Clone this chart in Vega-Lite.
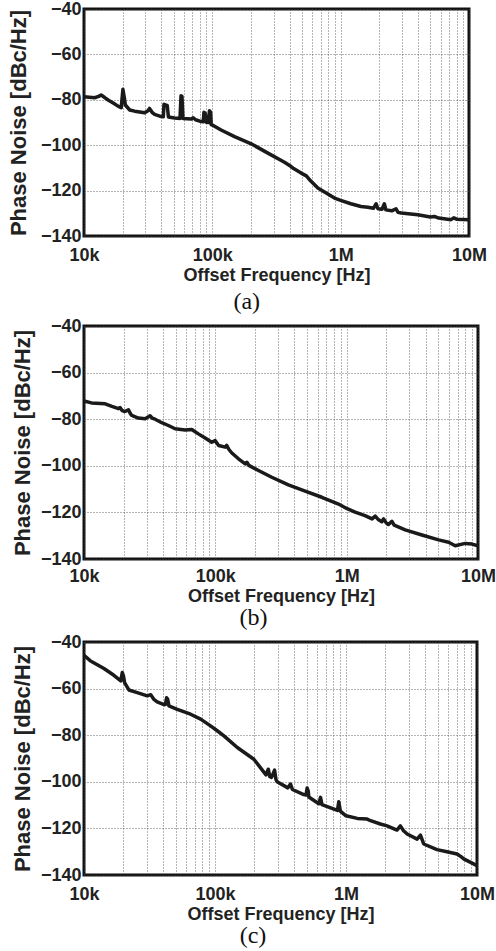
{
  "$schema": "https://vega.github.io/schema/vega-lite/v6.json",
  "padding": {"left": 5, "top": -2, "right": 4, "bottom": 0},
  "spacing": -1,
  "datasets": {
    "a": [
      {"f": 10000, "pn": -78.7}, {"f": 11000, "pn": -78.9}, {"f": 12100, "pn": -79.1}, {"f": 13000, "pn": -78.5},
      {"f": 13600, "pn": -77.9}, {"f": 14500, "pn": -79}, {"f": 15400, "pn": -80.1}, {"f": 17000, "pn": -81.5},
      {"f": 18400, "pn": -82.8}, {"f": 19500, "pn": -83.5}, {"f": 20100, "pn": -75.4}, {"f": 20600, "pn": -79},
      {"f": 21000, "pn": -82.3}, {"f": 22700, "pn": -84.5}, {"f": 24800, "pn": -85}, {"f": 29700, "pn": -85.7},
      {"f": 31500, "pn": -84.8}, {"f": 32400, "pn": -83.8}, {"f": 34000, "pn": -85.6}, {"f": 35500, "pn": -86.4},
      {"f": 40000, "pn": -87.4}, {"f": 41500, "pn": -87.5}, {"f": 42000, "pn": -82}, {"f": 43000, "pn": -82.3},
      {"f": 44500, "pn": -82.5}, {"f": 45500, "pn": -87.6}, {"f": 50800, "pn": -88}, {"f": 56000, "pn": -88.2},
      {"f": 57000, "pn": -78.2}, {"f": 58000, "pn": -78.5}, {"f": 59000, "pn": -88.2}, {"f": 68600, "pn": -88.5},
      {"f": 71000, "pn": -87.9}, {"f": 74000, "pn": -88.8}, {"f": 82000, "pn": -89.6}, {"f": 85000, "pn": -89.7},
      {"f": 86000, "pn": -85.5}, {"f": 88000, "pn": -86}, {"f": 89700, "pn": -89.9}, {"f": 93000, "pn": -90},
      {"f": 95000, "pn": -84.8}, {"f": 97000, "pn": -85.5}, {"f": 98000, "pn": -91}, {"f": 100000, "pn": -91.1},
      {"f": 117000, "pn": -93.3}, {"f": 149000, "pn": -96.2}, {"f": 201000, "pn": -99.4}, {"f": 271000, "pn": -103.5},
      {"f": 365000, "pn": -107.5}, {"f": 411000, "pn": -109.4}, {"f": 430000, "pn": -110.3}, {"f": 492000, "pn": -112.3},
      {"f": 540000, "pn": -113.5}, {"f": 555000, "pn": -114.3}, {"f": 580000, "pn": -115.6}, {"f": 664000, "pn": -118.9},
      {"f": 895000, "pn": -123.3}, {"f": 1000000, "pn": -124.3}, {"f": 1200000, "pn": -125.8}, {"f": 1440000, "pn": -127},
      {"f": 1630000, "pn": -127.3}, {"f": 1800000, "pn": -127.8}, {"f": 1890000, "pn": -125.8}, {"f": 1950000, "pn": -128},
      {"f": 2100000, "pn": -128.2}, {"f": 2190000, "pn": -125.8}, {"f": 2250000, "pn": -128.5}, {"f": 2500000, "pn": -128.9},
      {"f": 2700000, "pn": -128}, {"f": 2800000, "pn": -129.6}, {"f": 2960000, "pn": -129.9}, {"f": 3990000, "pn": -130.6},
      {"f": 5000000, "pn": -131.6}, {"f": 5370000, "pn": -131.4}, {"f": 5800000, "pn": -132.1}, {"f": 7240000, "pn": -132.8},
      {"f": 7600000, "pn": -132}, {"f": 8000000, "pn": -132.6}, {"f": 10000000, "pn": -132.8}
    ],
    "b": [
      {"f": 10000, "pn": -72.2}, {"f": 11400, "pn": -73}, {"f": 14500, "pn": -73.4}, {"f": 16300, "pn": -74.5},
      {"f": 18300, "pn": -75.5}, {"f": 18800, "pn": -75}, {"f": 19500, "pn": -76.3}, {"f": 20500, "pn": -76.7},
      {"f": 21800, "pn": -76}, {"f": 22500, "pn": -77.5}, {"f": 23100, "pn": -78.4}, {"f": 25900, "pn": -79.5},
      {"f": 29200, "pn": -79.8}, {"f": 30500, "pn": -79.2}, {"f": 31800, "pn": -78.5}, {"f": 33000, "pn": -79.5},
      {"f": 34800, "pn": -80}, {"f": 39100, "pn": -81.5}, {"f": 43900, "pn": -82.7}, {"f": 49400, "pn": -84.1},
      {"f": 58900, "pn": -84.6}, {"f": 66100, "pn": -84.4}, {"f": 74300, "pn": -86.3}, {"f": 83600, "pn": -88.1},
      {"f": 93900, "pn": -89.9}, {"f": 99600, "pn": -89.2}, {"f": 106000, "pn": -91.3}, {"f": 119000, "pn": -92},
      {"f": 122000, "pn": -91.2}, {"f": 127000, "pn": -93}, {"f": 133000, "pn": -94.4}, {"f": 150000, "pn": -97},
      {"f": 169000, "pn": -99.2}, {"f": 174000, "pn": -98.5}, {"f": 180000, "pn": -99.8}, {"f": 213000, "pn": -102},
      {"f": 269000, "pn": -104.9}, {"f": 360000, "pn": -108.2}, {"f": 483000, "pn": -110.9}, {"f": 647000, "pn": -113.5},
      {"f": 867000, "pn": -116.4}, {"f": 1000000, "pn": -118.3}, {"f": 1160000, "pn": -119.9}, {"f": 1380000, "pn": -121.4},
      {"f": 1560000, "pn": -122.8}, {"f": 1650000, "pn": -121.6}, {"f": 1750000, "pn": -123.2}, {"f": 1850000, "pn": -124},
      {"f": 1910000, "pn": -122.8}, {"f": 2000000, "pn": -124.5}, {"f": 2080000, "pn": -125.2}, {"f": 2210000, "pn": -123.8},
      {"f": 2300000, "pn": -125.5}, {"f": 2790000, "pn": -127.5}, {"f": 3740000, "pn": -129.7}, {"f": 5010000, "pn": -131.8},
      {"f": 5970000, "pn": -132.8}, {"f": 6710000, "pn": -134.3}, {"f": 8000000, "pn": -133.3}, {"f": 9000000, "pn": -133.6},
      {"f": 10000000, "pn": -134.3}
    ],
    "c": [
      {"f": 10000, "pn": -45.7}, {"f": 11200, "pn": -48.1}, {"f": 11500, "pn": -48.5}, {"f": 14200, "pn": -51.4},
      {"f": 16900, "pn": -54.3}, {"f": 19100, "pn": -56.7}, {"f": 19600, "pn": -53.1}, {"f": 20000, "pn": -54.5},
      {"f": 20400, "pn": -57.4}, {"f": 22000, "pn": -60.6}, {"f": 25500, "pn": -61.7}, {"f": 30400, "pn": -63.1},
      {"f": 32300, "pn": -62.6}, {"f": 34000, "pn": -64.5}, {"f": 36200, "pn": -65.7}, {"f": 40800, "pn": -66.9},
      {"f": 41800, "pn": -66.8}, {"f": 42700, "pn": -63.9}, {"f": 43500, "pn": -64.5}, {"f": 44500, "pn": -67.4},
      {"f": 51500, "pn": -68.9}, {"f": 65100, "pn": -71}, {"f": 77700, "pn": -73.1}, {"f": 92500, "pn": -76},
      {"f": 104000, "pn": -78.1}, {"f": 117000, "pn": -80.3}, {"f": 148000, "pn": -85.3}, {"f": 198000, "pn": -90.3},
      {"f": 245000, "pn": -97}, {"f": 255000, "pn": -94.6}, {"f": 262000, "pn": -97.8}, {"f": 270000, "pn": -98.1},
      {"f": 285000, "pn": -95}, {"f": 292000, "pn": -99}, {"f": 298000, "pn": -100}, {"f": 360000, "pn": -102.6},
      {"f": 377000, "pn": -101}, {"f": 390000, "pn": -103.3}, {"f": 476000, "pn": -105.5}, {"f": 495000, "pn": -105.7},
      {"f": 505000, "pn": -102.7}, {"f": 515000, "pn": -104}, {"f": 520000, "pn": -106.5}, {"f": 620000, "pn": -109.4},
      {"f": 639000, "pn": -106.7}, {"f": 655000, "pn": -109.8}, {"f": 860000, "pn": -112.3}, {"f": 881000, "pn": -108.6},
      {"f": 905000, "pn": -112.6}, {"f": 1000000, "pn": -114.6}, {"f": 1220000, "pn": -115.7}, {"f": 1450000, "pn": -116},
      {"f": 1540000, "pn": -116.7}, {"f": 1830000, "pn": -118.1}, {"f": 2060000, "pn": -118.9}, {"f": 2450000, "pn": -120.7},
      {"f": 2600000, "pn": -118.9}, {"f": 2750000, "pn": -121}, {"f": 2930000, "pn": -122.4}, {"f": 3490000, "pn": -124.6},
      {"f": 3700000, "pn": -122.9}, {"f": 3850000, "pn": -125.5}, {"f": 3920000, "pn": -126.7}, {"f": 4950000, "pn": -129.1},
      {"f": 5900000, "pn": -130}, {"f": 7040000, "pn": -131}, {"f": 7500000, "pn": -132}, {"f": 7920000, "pn": -133.1},
      {"f": 10000000, "pn": -136}
    ]
  },
  "config": {
    "view": {"stroke": "#111", "strokeWidth": 3},
    "axis": {
      "domain": false, "ticks": false, "grid": true,
      "gridDash": [1, 2], "gridColor": "#444", "gridWidth": 0.8,
      "labelFont": "Liberation Sans", "labelFontWeight": "bold", "labelFontSize": 18, "labelColor": "#222",
      "titleFont": "Liberation Sans", "titleFontWeight": "bold", "titleColor": "#222"
    },
    "axisX": {"titleFontSize": 18, "labelPadding": 10, "titlePadding": 2, "labelFlush": false, "labelOverlap": false, "labelBound": false},
    "axisY": {"titleFontSize": 22, "labelPadding": 3, "titlePadding": 6},
    "title": {"font": "Liberation Serif", "fontSize": 24, "fontWeight": "normal", "color": "#111", "orient": "bottom", "anchor": "middle", "frame": "bounds"}
  },
  "vconcat": [
    {
      "data": {"name": "a"},
      "width": 385, "height": 227,
      "title": {"text": "(a)", "offset": 6},
      "mark": {"type": "line", "color": "#1a1a1a", "strokeWidth": 3.5, "strokeJoin": "round"},
      "encoding": {
        "x": {"field": "f", "type": "quantitative", "scale": {"type": "log", "domain": [10000, 10000000], "nice": false},
          "axis": {"title": "Offset Frequency [Hz]",
            "values": [10000, 20000, 30000, 40000, 50000, 60000, 70000, 80000, 90000, 100000, 200000, 300000, 400000, 500000, 600000, 700000, 800000, 900000, 1000000, 2000000, 3000000, 4000000, 5000000, 6000000, 7000000, 8000000, 9000000, 10000000],
            "labelExpr": "datum.value == 10000 ? '10k' : datum.value == 100000 ? '100k' : datum.value == 1000000 ? '1M' : datum.value == 10000000 ? '10M' : ''"}},
        "y": {"field": "pn", "type": "quantitative", "scale": {"domain": [-140, -40], "nice": false},
          "axis": {"title": "Phase Noise [dBc/Hz]", "values": [-140, -120, -100, -80, -60, -40], "minExtent": 48}}
      }
    },
    {
      "data": {"name": "b"},
      "width": 394, "height": 233,
      "title": {"text": "(b)", "offset": 1},
      "mark": {"type": "line", "color": "#1a1a1a", "strokeWidth": 3.5, "strokeJoin": "round"},
      "encoding": {
        "x": {"field": "f", "type": "quantitative", "scale": {"type": "log", "domain": [10000, 10000000], "nice": false},
          "axis": {"title": "Offset Frequency [Hz]", "labelPadding": 8,
            "values": [10000, 20000, 30000, 40000, 50000, 60000, 70000, 80000, 90000, 100000, 200000, 300000, 400000, 500000, 600000, 700000, 800000, 900000, 1000000, 2000000, 3000000, 4000000, 5000000, 6000000, 7000000, 8000000, 9000000, 10000000],
            "labelExpr": "datum.value == 10000 ? '10k' : datum.value == 100000 ? '100k' : datum.value == 1000000 ? '1M' : datum.value == 10000000 ? '10M' : ''"}},
        "y": {"field": "pn", "type": "quantitative", "scale": {"domain": [-140, -40], "nice": false},
          "axis": {"title": "Phase Noise [dBc/Hz]", "values": [-140, -120, -100, -80, -60, -40]}}
      }
    },
    {
      "data": {"name": "c"},
      "width": 393, "height": 233,
      "title": {"text": "(c)", "offset": 1},
      "mark": {"type": "line", "color": "#1a1a1a", "strokeWidth": 3.5, "strokeJoin": "round"},
      "encoding": {
        "x": {"field": "f", "type": "quantitative", "scale": {"type": "log", "domain": [10000, 10000000], "nice": false},
          "axis": {"title": "Offset Frequency [Hz]",
            "values": [10000, 20000, 30000, 40000, 50000, 60000, 70000, 80000, 90000, 100000, 200000, 300000, 400000, 500000, 600000, 700000, 800000, 900000, 1000000, 2000000, 3000000, 4000000, 5000000, 6000000, 7000000, 8000000, 9000000, 10000000],
            "labelExpr": "datum.value == 10000 ? '10k' : datum.value == 100000 ? '100k' : datum.value == 1000000 ? '1M' : datum.value == 10000000 ? '10M' : ''"}},
        "y": {"field": "pn", "type": "quantitative", "scale": {"domain": [-140, -40], "nice": false},
          "axis": {"title": "Phase Noise [dBc/Hz]", "values": [-140, -120, -100, -80, -60, -40]}}
      }
    }
  ]
}
